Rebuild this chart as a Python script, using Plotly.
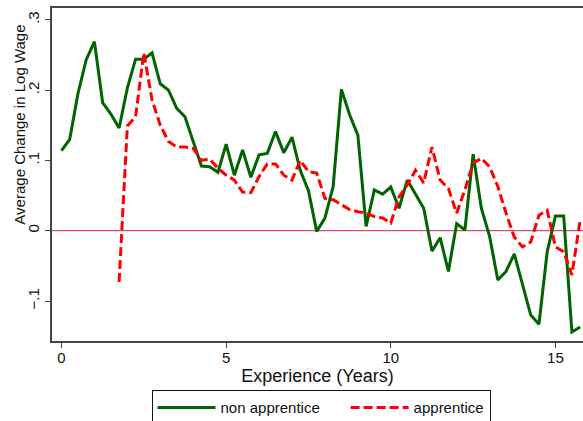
import plotly.graph_objects as go

# Experience in years (quarterly)
exp_non = [i * 0.25 for i in range(64)]
non_apprentice = [
    0.114, 0.130, 0.195, 0.243, 0.269, 0.182, 0.166, 0.146,
    0.203, 0.244, 0.244, 0.253, 0.209, 0.200, 0.174, 0.162,
    0.127, 0.092, 0.091, 0.083, 0.123, 0.079, 0.115, 0.076,
    0.108, 0.110, 0.141, 0.111, 0.133, 0.086, 0.057, -0.001,
    0.018, 0.063, 0.201, 0.165, 0.136, 0.006, 0.058, 0.052,
    0.062, 0.032, 0.072, 0.051, 0.032, -0.029, -0.010, -0.058,
    0.010, 0.001, 0.109, 0.032, -0.008, -0.070, -0.058, -0.033,
    -0.075, -0.120, -0.133, -0.030, 0.021, 0.021, -0.144, -0.137,
]
exp_app = [1.75 + i * 0.25 for i in range(57)]
apprentice = [
    -0.073, 0.149, 0.162, 0.253, 0.186, 0.150, 0.127, 0.119,
    0.119, 0.117, 0.100, 0.102, 0.089, 0.079, 0.072, 0.055,
    0.054, 0.077, 0.095, 0.095, 0.079, 0.072, 0.100, 0.084,
    0.082, 0.046, 0.044, 0.037, 0.030, 0.027, 0.025, 0.020,
    0.018, 0.011, 0.048, 0.065, 0.086, 0.068, 0.119, 0.072,
    0.060, 0.025, 0.058, 0.096, 0.103, 0.091, 0.063, 0.025,
    -0.009, -0.023, -0.016, 0.022, 0.029, -0.023, -0.030, -0.063,
    0.015,
]
x_ticks = [0, 5, 10, 15]
y_ticks = [-0.1, 0, 0.1, 0.2, 0.3]
y_ticktext = ["\u2212.1", "0", ".1", ".2", ".3"]
series_names = ["non apprentice", "apprentice"]
x_title = "Experience (Years)"
y_title = "Average Change in Log Wage"

FONT = "Liberation Sans"
PAD = "\u00a0" * 5

fig = go.Figure()
fig.add_trace(go.Scatter(x=exp_non, y=non_apprentice, mode="lines",
                         name=series_names[0] + PAD,
                         line=dict(color="rgb(0,100,0)", width=3)))
fig.add_trace(go.Scatter(x=exp_app, y=apprentice, mode="lines",
                         name=series_names[1],
                         line=dict(color="rgb(255,0,0)", width=3, dash="9px,4px")))
fig.add_hline(y=0, line=dict(color="#d41f55", width=1), layer="below")

fig.add_annotation(text=y_title, xref="paper", yref="paper",
                   x=-0.062, y=0.65, textangle=-90, showarrow=False,
                   xanchor="center", yanchor="middle",
                   font=dict(family=FONT, size=15, color="#111"))

fig.update_layout(
    width=583, height=421,
    margin=dict(l=52, r=0, t=8, b=80, autoexpand=False),
    paper_bgcolor="white", plot_bgcolor="white",
    font=dict(family=FONT, size=15, color="#111"),
    showlegend=True,
    legend=dict(orientation="h", x=0.5066, xanchor="center", y=-0.148, yanchor="top",
                bordercolor="#111", borderwidth=1, bgcolor="white",
                font=dict(size=15), itemwidth=58, tracegroupgap=0),
    xaxis=dict(range=[-0.288, 15.837], tickmode="array", tickvals=x_ticks,
               ticks="outside", ticklen=5, tickcolor="#444", tickwidth=1,
               showline=True, linecolor="#444", linewidth=1.5, mirror=True,
               showgrid=False, zeroline=False, automargin=True,
               ticklabelstandoff=-3,
               title=dict(text=x_title, standoff=4)),
    yaxis=dict(range=[-0.1569, 0.3168], tickmode="array", tickvals=y_ticks,
               ticktext=y_ticktext, tickangle=-90,
               ticks="outside", ticklen=5, tickcolor="#444", tickwidth=1,
               showline=True, linecolor="#444", linewidth=1.5, mirror=False,
               showgrid=False, zeroline=False, automargin=True),
)
fig.write_html("out.html", config={"displayModeBar": False},
               post_script="document.body.style.margin='0';")
